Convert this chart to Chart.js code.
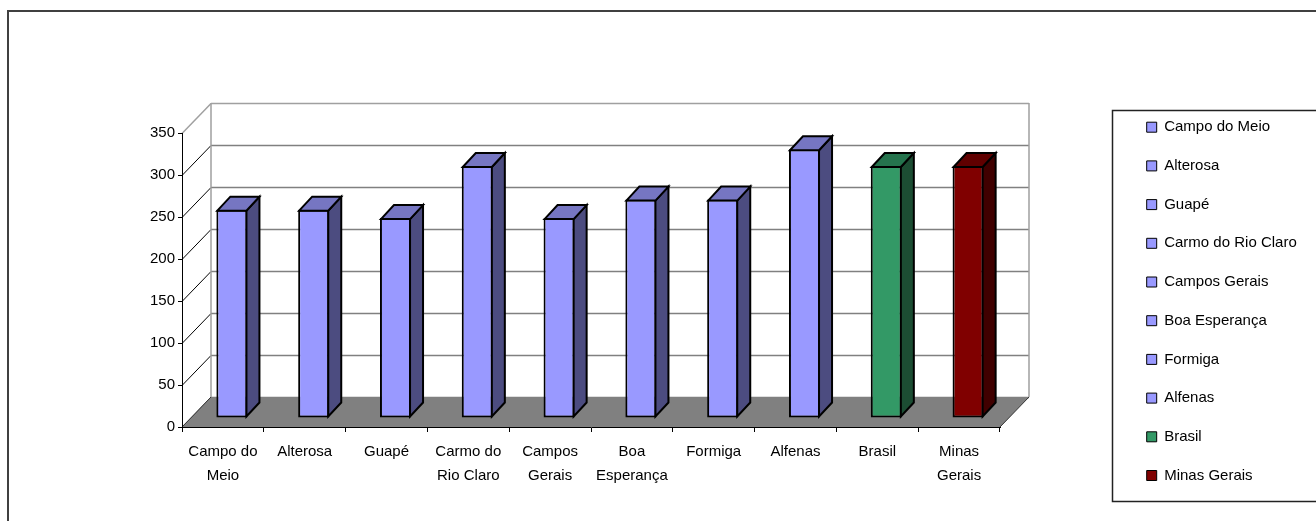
<!DOCTYPE html>
<html>
<head>
<meta charset="utf-8">
<title>Chart</title>
<script src="https://cdn.jsdelivr.net/npm/chart.js@4.4.1/dist/chart.umd.min.js"></script>
<style>
  html, body { margin: 0; padding: 0; background: #fff; }
  #wrap { position: relative; width: 1316px; height: 521px; }
</style>
</head>
<body>
<div id="wrap"><canvas id="bar-chart"></canvas></div>
<script>
// categorias do eixo x (quebradas em linhas) e valores
const cidades = [['Campo do', 'Meio'], 'Alterosa', 'Guapé', ['Carmo do', 'Rio Claro'], ['Campos', 'Gerais'],
                 ['Boa', 'Esperança'], 'Formiga', 'Alfenas', 'Brasil', ['Minas', 'Gerais']];
const valores = [248, 248, 238, 300, 238, 260, 260, 320, 300, 300];
const yMin = 0, yMax = 350, yStep = 50;

// cores: frente, topo, lateral
const roxo = ['#9999FF', '#7676C2', '#4C4C80'];
const verde = ['#339966', '#25734D', '#1C4D33'];
const vermelho = ['#800000', '#600000', '#400000'];
const cores = [roxo, roxo, roxo, roxo, roxo, roxo, roxo, roxo, verde, vermelho];

const FONT = "'Liberation Sans Narrow', 'Liberation Sans', Arial, sans-serif";
const WALL = { dx: 29, dy: -30 };    // profundidade das paredes
const BAR_OFF = { dx: 9, dy: -9 };   // plano das barras
const BAR_D = { dx: 13, dy: -14 };   // profundidade das barras

const nome = (c) => Array.isArray(c) ? c.join(' ') : c;

// desenha paredes, piso e as faces 3D das barras
const threeD = {
    id: 'threeD',
    afterLayout(chart) {
        // legenda na caixa da direita
        const lg = chart.legend;
        lg.left = 1123; lg.right = 1316; lg.width = lg.right - lg.left;
        lg.top = 96; lg.bottom = 521; lg.height = lg.bottom - lg.top;
    },
    beforeDraw(chart) {
        const {ctx, chartArea: a, scales: {y}} = chart;
        const {dx, dy} = WALL;
        ctx.save();
        // linhas de grade na parede do fundo e diagonais na parede lateral
        y.ticks.forEach(t => {
            const py = Math.round(y.getPixelForValue(t.value)) + 0.5;
            const top = t.value === yMax;
            ctx.strokeStyle = top ? '#a0a0a0' : '#808080';
            ctx.lineWidth = 1.5;
            ctx.beginPath();
            ctx.moveTo(a.left + dx, py + dy);
            ctx.lineTo(a.right + dx, py + dy);
            ctx.stroke();
            ctx.strokeStyle = top ? '#a0a0a0' : '#000';
            ctx.lineWidth = top ? 1.5 : 1;
            ctx.beginPath();
            ctx.moveTo(a.left, py);
            ctx.lineTo(a.left + dx, py + dy);
            ctx.stroke();
        });
        // arestas das paredes
        ctx.strokeStyle = '#a0a0a0';
        ctx.lineWidth = 1.5;
        ctx.beginPath();
        ctx.moveTo(a.left + dx, a.top + dy);
        ctx.lineTo(a.left + dx, a.bottom + dy);
        ctx.moveTo(a.right + dx, a.top + dy);
        ctx.lineTo(a.right + dx, a.bottom + dy);
        ctx.stroke();
        // piso
        ctx.fillStyle = '#808080';
        ctx.beginPath();
        ctx.moveTo(a.left, a.bottom);
        ctx.lineTo(a.right, a.bottom);
        ctx.lineTo(a.right + dx, a.bottom + dy);
        ctx.lineTo(a.left + dx, a.bottom + dy);
        ctx.closePath();
        ctx.fill();
        ctx.strokeStyle = '#333';
        ctx.lineWidth = 1;
        ctx.beginPath();
        ctx.moveTo(a.left, a.bottom);
        ctx.lineTo(a.left + dx, a.bottom + dy);
        ctx.moveTo(a.right, a.bottom);
        ctx.lineTo(a.right + dx, a.bottom + dy);
        ctx.stroke();
        ctx.restore();
    },
    beforeDatasetsDraw(chart) {
        chart.ctx.save();
        chart.ctx.translate(BAR_OFF.dx, BAR_OFF.dy);
    },
    afterDatasetsDraw(chart) {
        const ctx = chart.ctx;
        const {dx, dy} = BAR_D;
        chart.getDatasetMeta(0).data.forEach((bar, i) => {
            const {x, y, base, width} = bar.getProps(['x', 'y', 'base', 'width'], true);
            const L = x - width / 2 + 1, R = x + width / 2 - 1, T = y + 1, B = base - 1;
            ctx.lineWidth = 2;
            ctx.strokeStyle = '#000';
            ctx.lineJoin = 'miter';
            // lateral
            ctx.beginPath();
            ctx.moveTo(R, B); ctx.lineTo(R, T); ctx.lineTo(R + dx, T + dy); ctx.lineTo(R + dx, B + dy);
            ctx.closePath();
            ctx.fillStyle = cores[i][2];
            ctx.fill(); ctx.stroke();
            // topo
            ctx.beginPath();
            ctx.moveTo(L, T); ctx.lineTo(L + dx, T + dy); ctx.lineTo(R + dx, T + dy); ctx.lineTo(R, T);
            ctx.closePath();
            ctx.fillStyle = cores[i][1];
            ctx.fill(); ctx.stroke();
        });
        ctx.restore();
    },
    afterDraw(chart) {
        const ctx = chart.ctx;
        ctx.save();
        // moldura da legenda
        ctx.strokeStyle = '#222';
        ctx.lineWidth = 1.5;
        ctx.strokeRect(1112.5, 110.5, 300, 391);
        // moldura externa
        ctx.strokeStyle = '#404040';
        ctx.lineWidth = 2;
        ctx.strokeRect(8, 11, 1400, 600);
        ctx.restore();
    }
};

var ctx = document.getElementById('bar-chart').getContext('2d');
var myChart = new Chart(ctx, {
    type: 'bar',
    data: {
        labels: cidades,
        datasets: [{
            data: valores,
            backgroundColor: cores.map(c => c[0]),
            borderColor: '#000',
            borderWidth: 2,
            borderSkipped: false,
            barPercentage: 0.38,
            categoryPercentage: 1,
            clip: false
        }]
    },
    options: {
        responsive: true,
        maintainAspectRatio: false,
        animation: false,
        layout: { padding: { left: 0, top: 133, right: 216, bottom: 14 } },
        scales: {
            x: {
                ticks: { color: '#000', font: { family: FONT, size: 15, lineHeight: 1.6 }, maxRotation: 0, autoSkip: false, padding: 8 },
                grid: { drawOnChartArea: false, tickLength: 5, color: '#000', offset: true },
                border: { color: '#000' },
                afterFit(s) { s.height = 80; }
            },
            y: {
                min: yMin,
                max: yMax,
                ticks: { stepSize: yStep, color: '#000', font: { family: FONT, size: 15 }, padding: 3 },
                grid: { drawOnChartArea: false, tickLength: 4, color: '#000' },
                border: { color: '#000' },
                afterFit(s) { s.width = 182; }
            }
        },
        plugins: {
            tooltip: { enabled: false },
            legend: {
                position: 'right',
                align: 'start',
                maxWidth: 100,
                onClick: null,
                labels: {
                    boxWidth: 10,
                    boxHeight: 10,
                    padding: 23.7,
                    color: '#000',
                    font: { family: FONT, size: 15 },
                    generateLabels: () => cidades.map((c, i) => ({
                        text: nome(c),
                        fillStyle: cores[i][0],
                        strokeStyle: '#000',
                        lineWidth: 1,
                        hidden: false,
                        index: i,
                        datasetIndex: 0
                    }))
                }
            }
        }
    },
    plugins: [threeD]
});
</script>
</body>
</html>
